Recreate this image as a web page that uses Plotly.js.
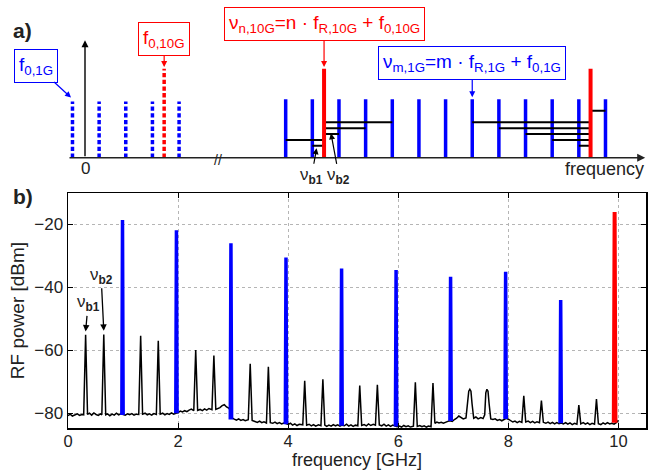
<!DOCTYPE html>
<html>
<head>
<meta charset="utf-8">
<script src="https://cdn.plot.ly/plotly-3.0.1.min.js"></script>
<style>html,body{margin:0;padding:0;background:#fff;}#chart{width:648px;height:470px;}</style>
</head>
<body>
<div id="chart"></div>
<script>
// ---------- Panel b: measured RF spectrum ----------
const blackFreq = [
 0.00,0.04,0.08,0.12,0.17,0.21,0.25,0.285,0.32,0.355,0.39,0.43,0.47,0.51,0.55,0.59,0.615,0.65,0.685,0.72,0.76,0.80,0.84,0.88,0.92,0.96,
 1.00,1.04,1.08,1.12,1.16,1.20,1.24,1.285,1.32,1.355,1.40,1.44,1.48,1.52,1.56,1.605,1.64,1.675,1.72,1.76,1.80,1.84,1.88,1.92,1.96,
 2.00,2.04,2.08,2.12,2.16,2.20,2.24,2.285,2.32,2.355,2.40,2.44,2.48,2.52,2.56,2.615,2.65,2.685,2.72,2.76,2.80,2.84,2.88,2.92,2.95,2.98,
 3.02,3.06,3.10,3.14,3.18,3.22,3.275,3.31,3.345,3.40,3.44,3.48,3.52,3.56,3.605,3.64,3.675,3.72,3.76,3.80,3.84,3.88,3.92,3.96,
 4.00,4.04,4.08,4.12,4.16,4.20,4.265,4.30,4.335,4.38,4.42,4.46,4.50,4.55,4.595,4.63,4.665,4.70,4.74,4.78,4.82,4.86,4.90,4.94,4.98,
 5.02,5.06,5.10,5.14,5.18,5.22,5.265,5.30,5.335,5.38,5.42,5.46,5.50,5.545,5.585,5.62,5.655,5.70,5.74,5.78,5.82,5.86,5.90,5.94,5.98,
 6.02,6.06,6.10,6.14,6.18,6.22,6.275,6.31,6.345,6.39,6.43,6.47,6.51,6.55,6.595,6.63,6.665,6.70,6.74,6.78,6.82,6.86,6.90,6.94,6.98,
 7.02,7.06,7.10,7.14,7.18,7.23,7.26,7.28,7.30,7.32,7.34,7.37,7.41,7.45,7.50,7.54,7.57,7.59,7.61,7.63,7.65,7.68,7.72,7.76,7.80,7.84,7.88,7.92,7.96,
 8.00,8.04,8.08,8.12,8.16,8.20,8.245,8.28,8.315,8.36,8.40,8.44,8.48,8.52,8.565,8.60,8.635,8.68,8.72,8.76,8.80,8.84,8.88,8.92,8.96,
 9.00,9.04,9.08,9.12,9.16,9.20,9.245,9.28,9.315,9.36,9.40,9.44,9.48,9.52,9.565,9.60,9.635,9.68,9.72,9.76,9.80,9.84,9.88,9.92,9.96,10.00
];
const blackPower = [
 -80.8,-80.3,-80.9,-80.5,-80.2,-80.7,-80.4,-80.5,-55.1,-80.4,-80.0,-80.6,-79.9,-80.4,-80.7,-80.2,-80.5,-55.0,-80.5,-80.2,-80.8,-80.3,-80.6,-80.0,-80.5,-80.2,
 -80.4,-80.6,-80.2,-80.5,-80.1,-80.6,-80.3,-80.4,-55.4,-80.3,-80.0,-80.5,-80.2,-80.6,-80.1,-80.4,-57.0,-80.3,-80.0,-80.5,-80.1,-80.4,-79.9,-80.3,-80.0,
 -79.8,-79.3,-79.6,-79.2,-79.5,-79.0,-78.7,-79.2,-59.9,-79.1,-78.8,-79.2,-78.6,-79.0,-78.5,-78.9,-61.7,-78.8,-78.6,-78.2,-77.6,-77.3,-78.0,-78.4,-79.0,-81.5,
 -81.9,-82.2,-81.8,-82.3,-82.0,-82.4,-82.1,-64.3,-82.3,-82.6,-82.9,-82.5,-83.0,-82.7,-83.1,-65.2,-83.0,-83.2,-82.8,-83.3,-83.0,-83.4,-83.1,-83.3,
 -83.6,-83.2,-83.8,-83.4,-83.9,-83.5,-83.7,-69.7,-83.8,-83.5,-84.0,-83.6,-84.1,-83.7,-84.0,-69.2,-83.8,-84.2,-83.8,-84.1,-83.6,-84.0,-83.7,-84.1,-83.8,
 -84.0,-83.5,-84.1,-83.7,-84.2,-83.8,-84.0,-71.2,-83.9,-83.6,-84.0,-83.4,-83.9,-83.5,-83.8,-71.0,-83.7,-84.0,-83.5,-84.1,-83.7,-84.2,-83.8,-84.1,-84.3,
 -84.1,-84.4,-83.9,-84.3,-84.0,-84.4,-84.1,-70.2,-84.2,-83.9,-84.3,-84.0,-84.4,-84.1,-84.3,-70.4,-83.2,-82.8,-83.1,-82.9,-83.2,-82.8,-82.6,-82.4,-82.6,
 -82.0,-81.6,-80.9,-81.3,-81.8,-81.5,-76.0,-73.0,-72.4,-73.0,-77.0,-81.6,-81.2,-81.8,-81.4,-81.7,-80.5,-73.5,-72.4,-73.0,-77.0,-81.8,-82.0,-81.8,-82.3,-82.0,-82.4,-82.1,-81.6,
 -81.9,-82.4,-82.8,-82.5,-83.0,-82.6,-82.9,-74.5,-82.8,-82.5,-83.0,-82.6,-83.1,-82.7,-83.0,-76.0,-82.9,-83.2,-82.8,-83.3,-82.9,-83.4,-83.0,-83.3,-83.1,
 -83.4,-83.0,-83.5,-83.1,-83.6,-83.2,-83.5,-77.4,-83.4,-83.0,-83.5,-83.1,-83.6,-83.2,-83.5,-75.5,-83.3,-83.6,-83.1,-83.5,-83.0,-83.4,-83.2,-83.5,-83.0,-82.2
];
// 1 GHz comb lines (blue) and 10 GHz comb line (red)
const blueFreq  = [0.99, 1.97, 2.96, 3.96, 4.97, 5.96, 6.95, 7.95, 8.95];
const bluePower = [-18.6, -21.8, -26.0, -30.5, -34.0, -34.5, -36.6, -35.0, -44.0];
const blueFloor = [-80.6, -80.0, -82.0, -83.5, -84.0, -84.2, -82.5, -81.8, -83.2];
const redFreq  = [9.93];
const redPower = [-16.0];
const redFloor = [-83.0];
// beat-note labels
const beatLabelFreq  = [0.32, 0.65];
const beatLabelPower = [-54.0, -53.8];
const beatLabelText  = ['ν<sub><b>b1</b></sub>', 'ν<sub><b>b2</b></sub>'];
const xTickVals = [0, 2, 4, 6, 8, 10];
const yTickVals = [-80, -60, -40, -20];

// ---------- Panel a: schematic (units: comb spacing = 1) ----------
const ceoBlue = [-0.47, 0.53, 1.53, 2.53, 3.53];
const ceoBlueH = 0.63;
const ceoRed = [2.97];
const ceoRedH = 1.0;
const comb1G = [7.53, 8.53, 9.53, 10.53, 11.53, 12.53, 13.53, 14.53, 15.53, 16.53, 17.53, 18.53, 19.53];
const comb1GH = 0.656;
const comb10G = [8.97, 18.97];
const comb10GH = 1.0;
const beatStart = [7.53, 8.53, 8.97, 8.97, 8.97, 14.53, 15.53, 16.53, 17.53, 18.53, 18.97];
const beatEnd   = [8.97, 8.97, 11.53, 10.53, 9.53, 18.97, 18.97, 18.97, 18.97, 18.97, 19.53];
const beatLevel = [0.199, 0.135, 0.398, 0.33, 0.266, 0.398, 0.33, 0.266, 0.199, 0.135, 0.528];

const BLUE = '#0000ff', RED = '#ff0000';
const FONT = 'Liberation Sans, Arial, Helvetica, sans-serif';
const minus = v => (v < 0 ? '−' + Math.abs(v) : String(v));

function sticks(xs, h) {
  const x = [], y = [];
  xs.forEach(v => { x.push(v, v, null); y.push(0, h, null); });
  return {x, y};
}
function peaks(fs, ps, fl, hw) {
  const x = [], y = [];
  fs.forEach((f, i) => { x.push(f - hw, f, f + hw, null); y.push(fl[i], ps[i], fl[i], null); });
  return {x, y};
}
function hsegs(a, b, lv) {
  const x = [], y = [];
  a.forEach((s, i) => { x.push(s, b[i], null); y.push(lv[i], lv[i], null); });
  return {x, y};
}

const traces = [];
// panel b
traces.push({x: blackFreq, y: blackPower, xaxis: 'x', yaxis: 'y', mode: 'lines', line: {color: '#000', width: 1.5}, hoverinfo: 'skip'});
const bp = peaks(blueFreq, bluePower, blueFloor, 0.012);
traces.push({x: bp.x, y: bp.y, xaxis: 'x', yaxis: 'y', mode: 'lines', line: {color: BLUE, width: 3.5}, hoverinfo: 'skip'});
const rp = peaks(redFreq, redPower, redFloor, 0.015);
traces.push({x: rp.x, y: rp.y, xaxis: 'x', yaxis: 'y', mode: 'lines', line: {color: RED, width: 4}, hoverinfo: 'skip'});
// panel a
const cb = sticks(ceoBlue, ceoBlueH);
traces.push({x: cb.x, y: cb.y, xaxis: 'x2', yaxis: 'y2', mode: 'lines', line: {color: BLUE, width: 3.5, dash: '4.3px,2.4px'}, hoverinfo: 'skip'});
const cr = sticks(ceoRed, ceoRedH);
traces.push({x: cr.x, y: cr.y, xaxis: 'x2', yaxis: 'y2', mode: 'lines', line: {color: RED, width: 3.5, dash: '4.3px,2.4px'}, hoverinfo: 'skip'});
const c1 = sticks(comb1G, comb1GH);
traces.push({x: c1.x, y: c1.y, xaxis: 'x2', yaxis: 'y2', mode: 'lines', line: {color: BLUE, width: 3.5}, hoverinfo: 'skip'});
const bl = hsegs(beatStart, beatEnd, beatLevel);
traces.push({x: bl.x, y: bl.y, xaxis: 'x2', yaxis: 'y2', mode: 'lines', line: {color: '#000', width: 2}, hoverinfo: 'skip'});
const c10 = sticks(comb10G, comb10GH);
traces.push({x: c10.x, y: c10.y, xaxis: 'x2', yaxis: 'y2', mode: 'lines', line: {color: RED, width: 4}, hoverinfo: 'skip'});

const ann = [];
// panel labels
ann.push({xref: 'paper', yref: 'paper', x: -0.078, y: 0.928, xanchor: 'center', yanchor: 'middle', text: '<b>a)</b>', showarrow: false, font: {size: 21, color: '#222'}});
ann.push({xref: 'paper', yref: 'paper', x: -0.078, y: 0.541, xanchor: 'center', yanchor: 'middle', text: '<b>b)</b>', showarrow: false, font: {size: 21, color: '#222'}});
// x-axis title of panel b
ann.push({xref: 'paper', yref: 'paper', x: 0.5, y: -0.0752, xanchor: 'center', yanchor: 'middle', text: 'frequency [GHz]', showarrow: false, font: {size: 18, color: '#222'}});
// schematic axes
ann.push({xref: 'x2', yref: 'y2', axref: 'x2', ayref: 'y2', x: 21.02, y: 0, ax: -0.638, ay: 0, text: '', showarrow: true, arrowhead: 2, arrowsize: 1, arrowwidth: 1.6, arrowcolor: '#222'});
ann.push({xref: 'x2', yref: 'y2', axref: 'x2', ayref: 'y2', x: 0, y: 1.32, ax: 0, ay: 0, text: '', showarrow: true, arrowhead: 2, arrowsize: 1, arrowwidth: 1.4, arrowcolor: '#000'});
ann.push({xref: 'x2', yref: 'y2', x: 0, y: -0.127, text: '0', showarrow: false, font: {size: 17, color: '#222'}});
ann.push({xref: 'x2', yref: 'y2', x: 4.99, y: -0.03, text: '//', showarrow: false, font: {size: 14, color: '#222'}});
ann.push({xref: 'x2', yref: 'y2', x: 21.05, y: -0.127, xanchor: 'right', text: 'frequency', showarrow: false, font: {size: 18, color: '#222'}});
// schematic labels
const boxFont = {size: 19};
const boxStyle = (c) => ({showarrow: true, arrowhead: 2, arrowsize: 1, arrowwidth: 1.2, arrowcolor: c, bordercolor: c, borderwidth: 1, borderpad: 4, bgcolor: 'white', font: Object.assign({color: c}, boxFont)});
ann.push(Object.assign({xref: 'x2', yref: 'y2', x: -0.525, y: 0.676, ax: -35, ay: -32, text: 'f<sub>0,1G</sub>'}, boxStyle(BLUE)));
ann.push(Object.assign({xref: 'x2', yref: 'y2', x: 2.97, y: 1.02, ax: 0, ay: -28, text: 'f<sub>0,10G</sub>'}, boxStyle(RED)));
ann.push(Object.assign({xref: 'x2', yref: 'y2', x: 8.97, y: 1.02, ax: 0, ay: -43, text: 'ν<sub>n,10G</sub>=n · f<sub>R,10G</sub> + f<sub>0,10G</sub>'}, boxStyle(RED)));
ann.push(Object.assign({xref: 'x2', yref: 'y2', x: 14.53, y: 0.68, ax: 0, ay: -34, text: 'ν<sub>m,1G</sub>=m · f<sub>R,1G</sub> + f<sub>0,1G</sub>'}, boxStyle(BLUE)));
ann.push({xref: 'x2', yref: 'y2', x: 8.69, y: 0.106, ax: -5, ay: 28, text: 'ν<sub><b>b1</b></sub>', showarrow: true, arrowhead: 2, arrowsize: 1, arrowwidth: 1.2, arrowcolor: '#000', font: {size: 17, color: '#222'}});
ann.push({xref: 'x2', yref: 'y2', x: 9.23, y: 0.274, ax: 8, ay: 43, text: 'ν<sub><b>b2</b></sub>', showarrow: true, arrowhead: 2, arrowsize: 1, arrowwidth: 1.2, arrowcolor: '#000', font: {size: 17, color: '#222'}});
// panel b beat labels
const beatOffsets = [[2.5, -28], [-2.7, -55]];
beatLabelFreq.forEach((f, i) => {
  ann.push({xref: 'x', yref: 'y', x: f, y: beatLabelPower[i], ax: beatOffsets[i][0], ay: beatOffsets[i][1], text: beatLabelText[i], showarrow: true, arrowhead: 2, arrowsize: 1, arrowwidth: 1.3, arrowcolor: '#000', font: {size: 17, color: '#222'}});
});

const axisCommon = {ticks: 'inside', ticklen: 5, tickwidth: 1, tickcolor: '#000', showline: true, linecolor: '#000', linewidth: 1.5, mirror: 'ticks',
  showgrid: true, gridcolor: '#b5b5b5', griddash: 'dot', gridwidth: 1, zeroline: false, tickfont: {size: 17, color: '#222'}};

const layout = {
  width: 648, height: 470,
  margin: {l: 68, r: 2, t: 0, b: 42},
  paper_bgcolor: 'white', plot_bgcolor: 'white',
  showlegend: false,
  font: {family: FONT, size: 17, color: '#222'},
  xaxis: Object.assign({domain: [0, 1], anchor: 'y', range: [0, 10.5], tickvals: xTickVals, ticktext: xTickVals.map(minus)}, axisCommon, {tickfont: {size: 16.5, color: '#222'}, ticklabelstandoff: -2}),
  yaxis: Object.assign({domain: [0, 0.549], anchor: 'x', range: [-84.7, -10], tickvals: yTickVals, ticktext: yTickVals.map(minus),
    title: {text: 'RF power [dBm]', font: {size: 19}, standoff: 4}}, axisCommon),
  xaxis2: {domain: [0, 1], anchor: 'y2', range: [-0.638, 21.05], showgrid: false, zeroline: false, showticklabels: false, showline: false, ticks: ''},
  yaxis2: {domain: [0.579, 1], anchor: 'x2', range: [-0.253, 1.772], showgrid: false, zeroline: false, showticklabels: false, showline: false, ticks: ''},
  annotations: ann
};

Plotly.newPlot('chart', traces, layout, {staticPlot: true, displayModeBar: false});
</script>
</body>
</html>
